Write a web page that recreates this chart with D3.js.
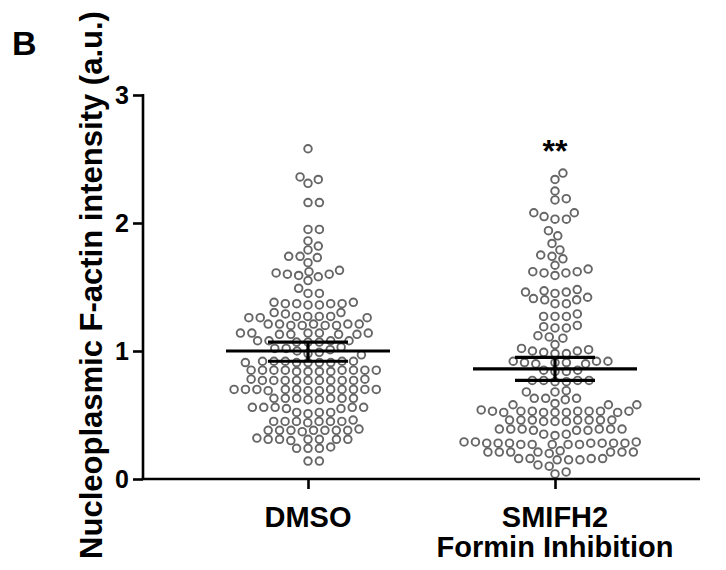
<!DOCTYPE html>
<html>
<head>
<meta charset="utf-8">
<script src="https://cdn.jsdelivr.net/npm/d3@7.9.0/dist/d3.min.js"></script>
<style>
  body { margin: 0; background: #fff; }
  text { font-family: "Liberation Sans", Arial, sans-serif; font-weight: bold; fill: #000; }
</style>
</head>
<body>
<svg width="726" height="570"></svg>
<script>
const groups = ['DMSO', 'SMIFH2'];
const groupLabels = [['DMSO'], ['SMIFH2', 'Formin Inhibition']];

const dmso = [
  2.58,
  2.36, 2.34, 2.31,
  2.16, 2.16,
  1.95, 1.95, 1.86, 1.82, 1.79,
  1.74, 1.74, 1.73, 1.69,
  1.63, 1.61, 1.60, 1.60, 1.59, 1.58, 1.62, 1.55,
  1.49, 1.45, 1.45,
  1.38, 1.37, 1.37, 1.36, 1.36, 1.37, 1.38, 1.37,
  1.30, 1.30, 1.29,
  1.27, 1.26, 1.27, 1.27, 1.26, 1.27, 1.26,
  1.21, 1.20, 1.21, 1.20, 1.21, 1.20, 1.21, 1.20, 1.21,
  1.14, 1.13, 1.14, 1.13, 1.14, 1.13, 1.14, 1.13, 1.14,
  1.08, 1.07, 1.08, 1.07, 1.08, 1.07, 1.08,
  1.03, 1.02, 1.01, 1.00, 0.99, 0.98, 0.97, 1.02,
  0.92, 0.91, 0.92, 0.91, 0.92, 0.91, 0.92, 0.91, 0.92, 0.91,
  0.85, 0.85, 0.84, 0.85, 0.85, 0.84, 0.85, 0.85, 0.84, 0.85, 0.85, 0.84,
  0.77, 0.77, 0.77, 0.77, 0.78, 0.77, 0.77, 0.77, 0.78, 0.77, 0.77,
  0.70, 0.70, 0.69, 0.70, 0.70, 0.69, 0.70, 0.70, 0.70, 0.69, 0.70, 0.70, 0.70,
  0.63, 0.63, 0.63, 0.62, 0.63, 0.63, 0.62, 0.63,
  0.56, 0.56, 0.56, 0.55, 0.56, 0.56, 0.55,
  0.52, 0.52, 0.51, 0.52,
  0.45, 0.45, 0.45, 0.45, 0.46, 0.45, 0.45, 0.44,
  0.38, 0.38, 0.38, 0.38, 0.39, 0.38, 0.38, 0.38, 0.37,
  0.31, 0.31, 0.31, 0.31, 0.31, 0.30, 0.31, 0.32,
  0.24, 0.24, 0.24, 0.25,
  0.14, 0.14
];

const smifh2 = [
  2.39, 2.34,
  2.25, 2.19, 2.18,
  2.08, 2.03, 2.05, 2.03, 2.08,
  1.94, 1.90, 1.84,
  1.79, 1.72, 1.74, 1.75, 1.67,
  1.61, 1.62, 1.64, 1.59, 1.61, 1.62,
  1.47, 1.46, 1.45, 1.37, 1.41, 1.48, 1.42, 1.46,
  1.37, 1.40, 1.40,
  1.29, 1.27, 1.27, 1.27,
  1.18, 1.20, 1.19, 1.18,
  1.12, 1.11, 1.10,
  1.05,
  0.98, 1.02, 0.99, 1.00, 1.01, 1.00, 0.98,
  0.92, 0.91, 0.90, 0.92, 0.91, 0.90, 0.91, 0.92,
  0.85, 0.85, 0.84, 0.84,
  0.77, 0.77, 0.76, 0.77, 0.77, 0.76,
  0.69, 0.68, 0.68,
  0.63, 0.63, 0.62, 0.63,
  0.59, 0.58, 0.58, 0.58,
  0.53, 0.53, 0.53, 0.52, 0.52, 0.53, 0.54, 0.52, 0.53, 0.52, 0.53, 0.53, 0.52,
  0.46, 0.46, 0.45, 0.45, 0.46, 0.45, 0.46, 0.46, 0.46, 0.46,
  0.39, 0.39, 0.39, 0.38, 0.39, 0.38, 0.39, 0.39, 0.38,
  0.35, 0.34, 0.35,
  0.28, 0.28, 0.28, 0.29, 0.28, 0.27, 0.27, 0.28, 0.27, 0.28, 0.27, 0.29, 0.27, 0.28, 0.29,
  0.21, 0.21, 0.21, 0.21, 0.20, 0.21, 0.22, 0.21, 0.21,
  0.15, 0.16, 0.15, 0.16, 0.15, 0.16, 0.16,
  0.10, 0.11,
  0.04, 0.055
];

// mean and error bar ends
const means = [1.00, 0.86];
const errUpper = [1.07, 0.95];
const errLower = [0.92, 0.77];
const yTicks = [0, 1, 2, 3];
const significance = ['', '**'];

const svg = d3.select('svg');

const x = d3.scalePoint().domain(groups).range([308, 555]);
const y = d3.scaleLinear().domain([0, 3]).range([479, 95]);

const r = 3.8;
const gapX = 11.4;  // spacing of neighbours in a row
const gapY = 8.9;   // spacing of stacked neighbours

// beeswarm: place each point at the closest free offset from the centre
function swarm(values) {
  let sorted = values.map((v) => ({ v, py: y(v) })).sort((a, b) => b.py - a.py);
  let placed = [];
  sorted.forEach((p) => {
    let near = placed.filter((q) => Math.abs(q.py - p.py) < gapY);
    let candidates = [0];
    near.forEach((q) => {
      let t = (q.py - p.py) / gapY;
      let dx = gapX * Math.sqrt(1 - t * t);
      candidates.push(q.dx + dx, q.dx - dx);
    });
    candidates.sort((a, b) => Math.abs(a) - Math.abs(b));
    let best = candidates.find((c) =>
      near.every((q) => ((q.dx - c) / gapX) ** 2 + ((q.py - p.py) / gapY) ** 2 >= 0.999));
    p.dx = best;
    placed.push(p);
  });
  return placed;
}

[dmso, smifh2].forEach((vals, gi) => {
  let pts = swarm(vals);
  svg.append('g')
    .selectAll('circle')
    .data(pts)
    .join('circle')
    .attr('cx', (d) => x(groups[gi]) + d.dx)
    .attr('cy', (d) => d.py)
    .attr('r', r)
    .attr('fill', 'none')
    .attr('stroke', '#666')
    .attr('stroke-width', 1.9);
});

// mean + error bars
let bars = svg.append('g').attr('stroke', '#000').attr('stroke-width', 3.2);
groups.forEach((g, i) => {
  let cx = x(g);
  bars.append('line').attr('x1', cx - 82).attr('x2', cx + 82).attr('y1', y(means[i])).attr('y2', y(means[i]));
  bars.append('line').attr('x1', cx).attr('x2', cx).attr('y1', y(errUpper[i])).attr('y2', y(errLower[i]));
  bars.append('line').attr('x1', cx - 40).attr('x2', cx + 40).attr('y1', y(errUpper[i])).attr('y2', y(errUpper[i]));
  bars.append('line').attr('x1', cx - 40).attr('x2', cx + 40).attr('y1', y(errLower[i])).attr('y2', y(errLower[i]));
});

// y axis
let yAxis = svg.append('g')
  .attr('transform', 'translate(143,0)')
  .call(d3.axisLeft(y).tickValues(yTicks).tickFormat(d3.format('d')).tickSize(10).tickPadding(4));
yAxis.select('.domain').attr('stroke-width', 2.6).attr('d', `M0,${y(3) - 1}V${y(0)}`);
yAxis.selectAll('.tick line').attr('stroke-width', 2.6);
yAxis.selectAll('.tick text').style('font-size', '25px').style('font-weight', 'bold')
  .style('font-family', '"Liberation Sans", Arial, sans-serif');

// x axis
let xAxis = svg.append('g')
  .attr('transform', `translate(0,${y(0)})`)
  .call(d3.axisBottom(x).tickSize(10).tickFormat(''));
xAxis.select('.domain').attr('stroke-width', 2.6).attr('d', 'M141.7,0H700');
xAxis.selectAll('.tick line').attr('stroke-width', 2.6);

groups.forEach((g, i) => {
  groupLabels[i].forEach((line, li) => {
    svg.append('text')
      .attr('x', x(g))
      .attr('y', 527 + li * 30)
      .attr('text-anchor', 'middle')
      .style('font-size', '29px')
      .text(line);
  });
  if (significance[i]) {
    svg.append('text')
      .attr('x', x(g))
      .attr('y', 162)
      .attr('text-anchor', 'middle')
      .style('font-size', '32px')
      .text(significance[i]);
  }
});

svg.append('text')
  .attr('transform', 'translate(102,285) rotate(-90)')
  .attr('text-anchor', 'middle')
  .style('font-size', '31px')
  .text('Nucleoplasmic F-actin intensity (a.u.)');

svg.append('text')
  .attr('x', 12)
  .attr('y', 55)
  .style('font-size', '34px')
  .text('B');
</script>
</body>
</html>
